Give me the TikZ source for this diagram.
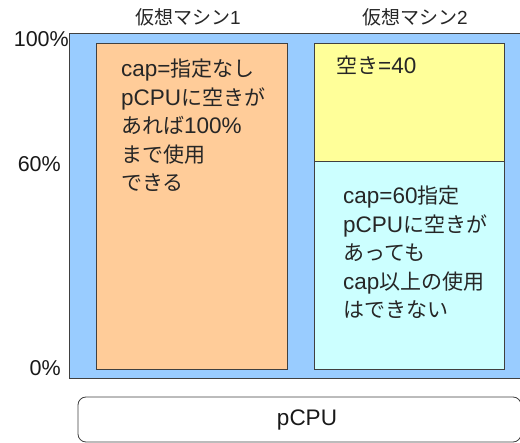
\documentclass[tikz,border=0pt]{standalone}
\usepackage{fontspec}
\setmainfont{Noto Sans CJK JP}
\newfontfamily\lat{Liberation Sans}
\newcommand{\la}[1]{{\lat\fontsize{22.5}{28}\selectfont #1}}
\definecolor{bgblue}{HTML}{99CCFF}
\definecolor{vmorange}{HTML}{FFCC99}
\definecolor{vmyellow}{HTML}{FFFF99}
\definecolor{vmcyan}{HTML}{CCFFFF}
\definecolor{edge}{HTML}{404040}
\begin{document}
\begin{tikzpicture}[x=1pt,y=-1pt,
  box/.style={draw=edge, line width=1pt},
  txt/.style={font=\fontsize{21}{28.5}\selectfont, align=left, inner sep=0pt, anchor=north west, text=black!85},
  lbl/.style={font=\fontsize{19}{22}\selectfont, inner sep=0pt, text=black!85},
  pct/.style={font=\lat\fontsize{21.5}{24}\selectfont, inner sep=0pt, anchor=east, text=black!90}]
\useasboundingbox (0,0) rectangle (520,443);
\fill[bgblue] (69,34) rectangle (522,379);
\draw[box] (522,34) -- (69,34) -- (69,379) -- (522,379);
\node[box, fill=vmorange, minimum width=191pt, minimum height=326pt, anchor=north west, inner sep=0pt] (vm1) at (96,43) {};
\node[box, fill=vmyellow, minimum width=190pt, minimum height=118pt, anchor=north west, inner sep=0pt] (free) at (314,43) {};
\node[box, fill=vmcyan, minimum width=190pt, minimum height=208pt, anchor=north west, inner sep=0pt] (vm2) at (314,161) {};
\node[txt] (t1) at (121,59) {\la{cap=}指定なし\\\la{pCPU}に空きが\\あれば\la{100\%}\\まで使用\\できる};
\node[txt, anchor=west] (t2) at (336,65) {空き\la{=40}};
\node[txt] (t3) at (343,186) {\la{cap=60}指定\\\la{pCPU}に空きが\\あっても\\\la{cap}以上の使用\\はできない};
\node[lbl] (h1) at (188,17) {仮想マシン{\lat 1}};
\node[lbl] (h2) at (415,17) {仮想マシン{\lat 2}};
\node[pct] (p100) at (69,39) {100\%};
\node[pct] (p60) at (61,164) {60\%};
\node[pct] (p0) at (61,368) {0\%};
\draw[draw=edge, line width=0.8pt, rounded corners=8pt, fill=white] (78,397) rectangle (521,442);
\node[font=\lat\fontsize{22.5}{26}\selectfont, text=black!90] (cpu) at (307,420) {pCPU};
\end{tikzpicture}
\end{document}
